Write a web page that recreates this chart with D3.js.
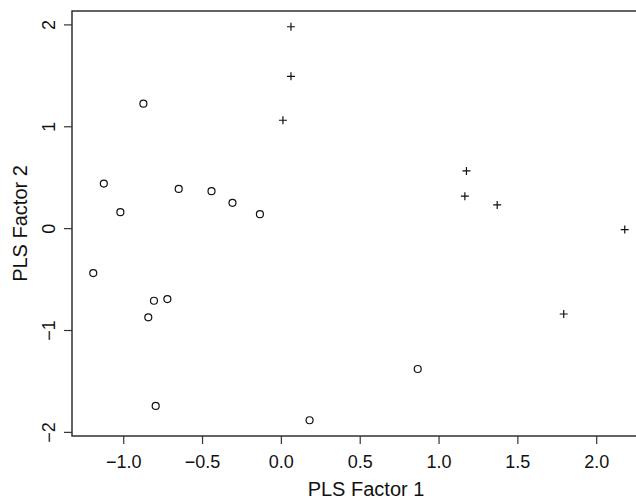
<!DOCTYPE html>
<html>
<head>
<meta charset="utf-8">
<title>PLS factors</title>
<script src="https://cdn.jsdelivr.net/npm/d3@7"></script>
<style>
  body { margin: 0; background: #fff; }
  svg { font-family: "Liberation Sans", Arial, Helvetica, sans-serif; }
  .frame { fill: none; stroke: #222; stroke-width: 1.4; }
  .axis path { display: none; }
  .axis line { stroke: #333; stroke-width: 1.2; }
  .axis text { font-size: 18px; fill: #111; }
  .circ { fill: none; stroke: #111; stroke-width: 1.2; }
  .cross { stroke: #111; stroke-width: 1.2; }
  .title { font-size: 20px; fill: #111; }
</style>
</head>
<body>
<div id="chart"></div>
<script>
// group 1 (open circles)
var circleX = [-0.872, -1.123, -1.018, -0.648, -0.440, -0.307, -0.133,
               -1.190, -0.805, -0.720, -0.841, -0.794, 0.182, 0.868];
var circleY = [1.222, 0.437, 0.157, 0.385, 0.363, 0.248, 0.137,
               -0.441, -0.713, -0.696, -0.876, -1.745, -1.886, -1.383];

// group 2 (plus signs)
var crossX = [0.064, 0.064, 0.013, 1.177, 1.167, 1.372, 2.181, 1.794];
var crossY = [1.977, 1.490, 1.059, 0.562, 0.314, 0.228, -0.014, -0.843];

var xTicks = [-1.0, -0.5, 0.0, 0.5, 1.0, 1.5, 2.0];
var yTicks = [-2, -1, 0, 1, 2];

var xLabel = "PLS Factor 1",
    yLabel = "PLS Factor 2";

var width = 636, height = 501;
var mLeft = 72, mTop = 11, mRight = 646, mBottom = 436;

var svg = d3.select("#chart").append("svg")
    .attr("width", width)
    .attr("height", height);

// R style: data range padded by 4% each side
var allX = circleX.concat(crossX), allY = circleY.concat(crossY);
var xe = d3.extent(allX), ye = d3.extent(allY);
var xp = (xe[1] - xe[0]) * 0.04, yp = (ye[1] - ye[0]) * 0.04;

var x = d3.scaleLinear().domain([xe[0] - xp, xe[1] + xp]).range([mLeft, mRight]);
var y = d3.scaleLinear().domain([ye[0] - yp, ye[1] + yp]).range([mBottom, mTop]);

var minus = function(s) { return s.replace("-", "\u2212"); };

svg.append("rect")
   .attr("class", "frame")
   .attr("x", mLeft).attr("y", mTop)
   .attr("width", mRight - mLeft).attr("height", mBottom - mTop);

svg.append("g")
   .attr("class", "axis")
   .attr("transform", "translate(0," + mBottom + ")")
   .call(d3.axisBottom(x).tickValues(xTicks).tickSize(8).tickPadding(11)
         .tickFormat(function(d) { return minus(d3.format(".1f")(d)); }));

var yAxis = svg.append("g")
   .attr("class", "axis")
   .attr("transform", "translate(" + mLeft + ",0)")
   .call(d3.axisLeft(y).tickValues(yTicks).tickSize(8)
         .tickFormat(function(d) { return minus(String(d)); }));

// rotated y tick labels, like R's las=0
yAxis.selectAll("text")
     .attr("x", null).attr("dy", null)
     .attr("text-anchor", "middle")
     .attr("transform", "translate(-17,0) rotate(-90)");

svg.append("g").selectAll("circle")
   .data(d3.zip(circleX, circleY))
   .enter().append("circle")
   .attr("class", "circ")
   .attr("cx", function(d) { return x(d[0]); })
   .attr("cy", function(d) { return y(d[1]); })
   .attr("r", 3.5);

var arm = 4;
svg.append("g").selectAll("path")
   .data(d3.zip(crossX, crossY))
   .enter().append("path")
   .attr("class", "cross")
   .attr("d", function(d) {
     var cx = x(d[0]), cy = y(d[1]);
     return "M" + (cx - arm) + "," + cy + "H" + (cx + arm) +
            "M" + cx + "," + (cy - arm) + "V" + (cy + arm);
   });

svg.append("text")
   .attr("class", "title")
   .attr("x", 366).attr("y", 496)
   .attr("text-anchor", "middle")
   .text(xLabel);

svg.append("text")
   .attr("class", "title")
   .attr("text-anchor", "middle")
   .attr("transform", "translate(27," + ((mTop + mBottom) / 2) + ") rotate(-90)")
   .text(yLabel);
</script>
</body>
</html>
